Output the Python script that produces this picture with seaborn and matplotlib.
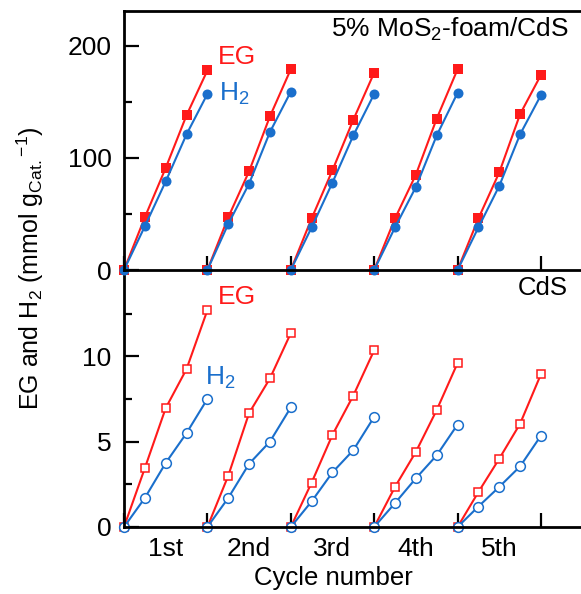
import numpy as np
import pandas as pd
import matplotlib
matplotlib.use("Agg")
import matplotlib.pyplot as plt
import seaborn as sns
from matplotlib.ticker import FixedLocator

# data
cycles = ["1st", "2nd", "3rd", "4th", "5th"]
hours = [0, 1, 2, 3, 4]  # sampling points within each 4 h cycle

# 5% MoS2-foam/CdS
foam_eg = [
    [0, 47, 91, 138, 178],
    [0, 47, 88, 137, 179],
    [0, 46, 89, 134, 176],
    [0, 46, 85, 135, 179],
    [0, 46, 87, 139, 174],
]
foam_h2 = [
    [0, 39, 79, 121, 157],
    [0, 41, 77, 123, 159],
    [0, 38, 78, 120, 157],
    [0, 38, 74, 120, 158],
    [0, 38, 75, 121, 156],
]

# CdS
cds_eg = [
    [0, 3.45, 6.96, 9.25, 12.7],
    [0, 3.0, 6.67, 8.7, 11.35],
    [0, 2.6, 5.4, 7.7, 10.35],
    [0, 2.35, 4.4, 6.85, 9.6],
    [0, 2.05, 4.0, 6.05, 8.95],
]
cds_h2 = [
    [0, 1.7, 3.75, 5.5, 7.5],
    [0, 1.7, 3.7, 5.0, 7.0],
    [0, 1.5, 3.2, 4.5, 6.45],
    [0, 1.4, 2.85, 4.2, 6.0],
    [0, 1.2, 2.35, 3.55, 5.35],
]

RED = "#ff1a1a"
BLUE = "#1a6fcc"


def to_frame(eg, h2):
    rows = []
    for k, name in enumerate(cycles):
        for i, h in enumerate(hours):
            rows.append({"cycle": name, "t": k * hours[-1] + h,
                         "EG": eg[k][i], "H2": h2[k][i]})
    return pd.DataFrame(rows)


df_foam = to_frame(foam_eg, foam_h2)
df_cds = to_frame(cds_eg, cds_h2)

sns.set_style("ticks", {"axes.edgecolor": "black", "text.color": "black",
                        "xtick.color": "black", "ytick.color": "black",
                        "axes.labelcolor": "black"})
plt.rcParams["font.family"] = ["Liberation Sans", "DejaVu Sans"]
plt.rcParams["mathtext.fontset"] = "custom"
plt.rcParams["mathtext.rm"] = "Liberation Sans"
plt.rcParams["mathtext.it"] = "Liberation Sans:italic"

fig = plt.figure(figsize=(5.81, 5.94), dpi=100)
ax2 = fig.add_axes([124 / 581, 67 / 594, 457 / 581, 257 / 594])
ax1 = fig.add_axes([124 / 581, 324 / 594, 457 / 581, 259 / 594])
ax1.patch.set_alpha(0)
ax1.set_zorder(3)

n_cyc = len(cycles)
span = hours[-1]
xmax = n_cyc * span + 40 / 83.3 * span

# top panel: filled markers
sns.lineplot(data=df_foam, x="t", y="EG", units="cycle", estimator=None, sort=False,
             color=RED, marker="s", markersize=6.8, markeredgewidth=0, lw=1.5,
             clip_on=False, ax=ax1)
sns.lineplot(data=df_foam, x="t", y="H2", units="cycle", estimator=None, sort=False,
             color=BLUE, marker="o", markersize=7.2, markeredgewidth=0, lw=1.5,
             clip_on=False, ax=ax1)

# bottom panel: open markers
sns.lineplot(data=df_cds, x="t", y="EG", units="cycle", estimator=None, sort=False,
             color=RED, marker="s", markersize=6.2, markerfacecolor="white",
             markeredgecolor=RED, markeredgewidth=1.1, lw=1.5, clip_on=False, ax=ax2)
sns.lineplot(data=df_cds, x="t", y="H2", units="cycle", estimator=None, sort=False,
             color=BLUE, marker="o", markersize=7.0, markerfacecolor="white",
             markeredgecolor=BLUE, markeredgewidth=1.1, lw=1.5, clip_on=False, ax=ax2)

ax1.set_ylim(0, 231)
ax2.set_ylim(0, 15.05)
ax1.yaxis.set_major_locator(FixedLocator([0, 100, 200]))
ax1.yaxis.set_minor_locator(FixedLocator([50, 150]))
ax2.yaxis.set_major_locator(FixedLocator([0, 5, 10]))
ax2.yaxis.set_minor_locator(FixedLocator([2.5, 7.5, 12.5]))

for ax in (ax1, ax2):
    ax.set_xlim(0, xmax)
    ax.set_xlabel("")
    ax.set_ylabel("")
    ax.xaxis.set_major_locator(FixedLocator([k * span for k in range(n_cyc + 1)]))
    ax.xaxis.set_minor_locator(FixedLocator([k * span + span / 2 for k in range(n_cyc)]))
    ax.tick_params(axis="x", which="major", direction="in", length=10, width=1.6,
                   labelbottom=False, color="black")
    ax.tick_params(axis="x", which="minor", length=0, pad=7, labelsize=19)
    ax.tick_params(axis="y", which="major", direction="in", length=11, width=1.6,
                   pad=9, labelsize=19, color="black")
    ax.tick_params(axis="y", which="minor", direction="in", length=6, width=1.6,
                   color="black")
    for side in ("left", "bottom", "top"):
        ax.spines[side].set_linewidth(2.0)
        ax.spines[side].set_color("black")
        ax.spines[side].set_zorder(5)
    ax.spines["right"].set_visible(False)

ax1.xaxis.set_minor_formatter(plt.NullFormatter())
ax2.xaxis.set_minor_formatter(plt.FixedFormatter(cycles))
ax2.spines["top"].set_visible(False)

ax1.text(4.5, 190, "EG", color=RED, fontsize=19, va="center", ha="left")
ax1.text(4.55, 157, "H$_2$", color=BLUE, fontsize=19, va="center", ha="left")
ax2.text(4.5, 13.45, "EG", color=RED, fontsize=19, va="center", ha="left")
ax2.text(3.9, 8.75, "H$_2$", color=BLUE, fontsize=19, va="center", ha="left")

ax1.text(0.972, 0.928, "5% MoS$_2$-foam/CdS", transform=ax1.transAxes,
         fontsize=19, ha="right", va="center")
ax2.text(0.972, 0.93, "CdS", transform=ax2.transAxes,
         fontsize=18.5, ha="right", va="center")

fig.text(30 / 581, (594 - 268) / 594,
         "EG and H$_2$ (mmol g$_{\\mathrm{Cat.}}$$^{-1}$)",
         rotation=90, fontsize=18, ha="center", va="center")
fig.text(333 / 581, (594 - 578) / 594, "Cycle number", fontsize=18.5,
         ha="center", va="center")

fig.savefig("out.png", dpi=100)
